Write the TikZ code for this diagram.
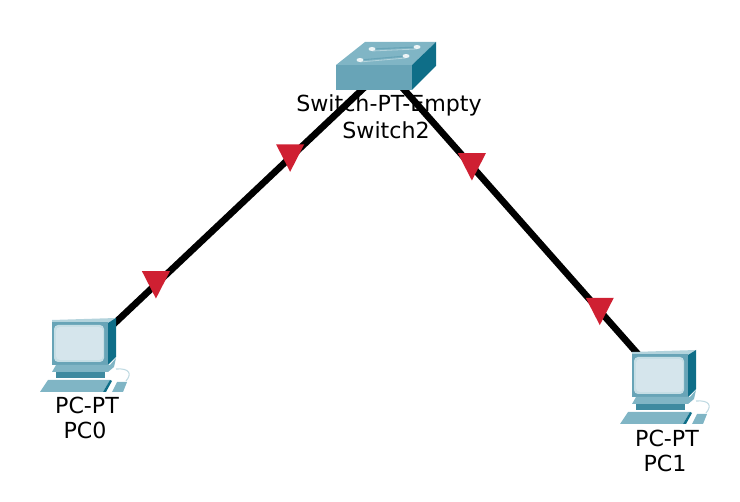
\documentclass[tikz,border=0pt]{standalone}
\usepackage{fontspec}
\setmainfont{DejaVu Sans}
\usetikzlibrary{shapes.geometric}
\definecolor{cablered}{RGB}{207,32,50}
\definecolor{tealtop}{RGB}{128,181,197}
\definecolor{tealfront}{RGB}{104,164,183}
\definecolor{tealdark}{RGB}{14,110,136}
\definecolor{tealmid}{RGB}{62,138,160}
\definecolor{screenblue}{RGB}{213,229,236}
\tikzset{
	cable/.style={line width=5pt,black},
	marker/.style={isosceles triangle,isosceles triangle stretches,shape border rotate=-90,fill=cablered,inner sep=0pt,minimum height=20.5pt,minimum width=21pt,yshift=3.4pt},
	devlabel/.style={font=\fontsize{16.6}{20}\selectfont,inner sep=0pt,text=black}
}

\begin{document}
\begin{tikzpicture}[x=0.75pt,y=-0.75pt]
	\useasboundingbox (0,0) rectangle (740,502);
	\coordinate (sw) at (385,68);
	\coordinate (pc0) at (80,356);
	\coordinate (pc1) at (660,379);
	% links
	\draw[cable] (sw) -- (pc0) node[marker,pos=0.311] (m1) {} node[marker,pos=0.751] (m2) {};
	\draw[cable] (sw) -- (pc1) node[marker,pos=0.316] (m3) {} node[marker,pos=0.781] (m4) {};
	% switch
	\fill[tealtop] (336,65) -- (365,42) -- (436,42) -- (412,65) -- cycle;
	\fill[tealfront] (336,65) rectangle (412,90);
	\fill[tealdark] (412,65) -- (436,42) -- (436,66) -- (412,90) -- cycle;
	\draw[tealfront,line width=0.8pt] (372,49) -- (417,47) (360,60) -- (406,56);
	\draw[white!40!tealtop,line width=0.6pt] (372,51) -- (417,49) (360,62) -- (406,58);
	\foreach \dx/\dy in {372/49,417/47,360/60,406/56}
		\fill[white!85!tealtop] (\dx,\dy) ellipse (3.5 and 2);
	% pcs
	\foreach \sx/\sy in {0/0,580/32}{
		\begin{scope}[shift={(\sx,\sy)}]
			\fill[white!40!tealtop] (52,320) -- (116,318) -- (108,323) -- (52,323) -- cycle;
			\fill[tealfront] (52,322) rectangle (108,365);
			\fill[tealdark] (108,323) -- (116,318) -- (116,357) -- (108,365) -- cycle;
			\fill[white!55!tealtop,rounded corners=3pt] (54,325) rectangle (104,362);
			\fill[screenblue,rounded corners=3pt] (56,327) rectangle (103,360);
			\fill[tealtop] (56,365) -- (110,365) -- (116,358) -- (114,367) -- (108,372) -- (52,372) -- cycle;
			\fill[tealmid] (56,372) rectangle (105,378);
			\fill[tealtop] (48,380) -- (110,380) -- (103,392) -- (40,392) -- cycle;
			\fill[tealdark] (110,380) -- (112,381) -- (106,392) -- (103,392) -- cycle;
			\fill[tealtop] (112,392) -- (117,382) -- (127,382) -- (123,392) -- cycle;
			\draw[white!50!tealtop,line width=0.8pt] (116,369) .. controls (130,368) and (132,374) .. (126,381);
		\end{scope}
	}
	% labels
	\node[devlabel] (swtype) at (389,105) {Switch-PT-Empty};
	\node[devlabel] (swname) at (386,130) {Switch2};
	\node[devlabel] (pc0type) at (87,405) {PC-PT};
	\node[devlabel] (pc0name) at (85,430) {PC0};
	\node[devlabel] (pc1type) at (667,438) {PC-PT};
	\node[devlabel] (pc1name) at (665,463) {PC1};
\end{tikzpicture}
\end{document}
